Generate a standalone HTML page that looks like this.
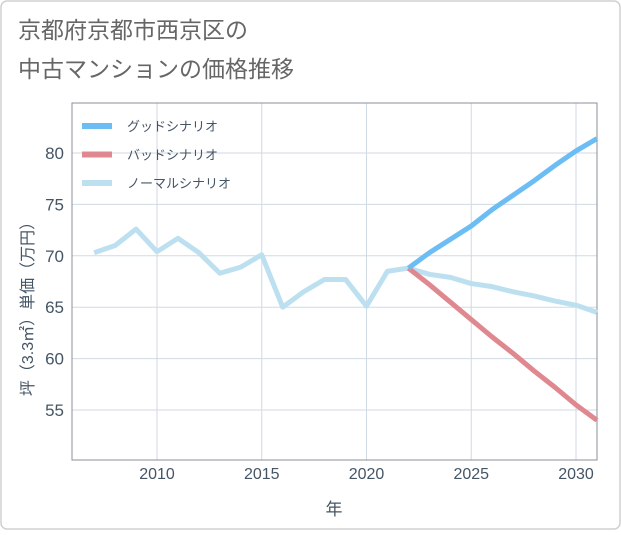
<!DOCTYPE html>
<html><head><meta charset="utf-8"><style>
body{margin:0;background:#fff;}
#wrap{position:relative;width:621px;height:530px;}
text{font-family:"Liberation Sans","Noto Sans CJK JP",sans-serif;}
</style></head><body>
<div id="wrap">
<svg id="chart" width="621" height="530">
<rect x="1" y="1" width="619" height="528" rx="6" fill="#fff" stroke="#d0d0d0" stroke-width="1.5"/>
<text x="18" y="38" font-size="23" fill="#666">京都府京都市西京区の</text>
<text x="18" y="77" font-size="23" fill="#666">中古マンションの価格推移</text>
<g id="grid"></g>
<rect x="72" y="103" width="525" height="357" fill="none" stroke="#8a9099" stroke-width="1"/>
<g id="series"></g>
<g id="axes"></g>
<text x="334" y="515" font-size="17" fill="#445566" text-anchor="middle">年</text>
<text transform="translate(33,305) rotate(-90)" font-size="16" fill="#445566" text-anchor="middle">坪（3.3㎡）単価（万円）</text>
<g id="legend"></g>
</svg>
</div>
<script>
const years=[2007,2008,2009,2010,2011,2012,2013,2014,2015,2016,2017,2018,2019,2020,2021,2022,2023,2024,2025,2026,2027,2028,2029,2030,2031];
const normalVals=[70.3,71.0,72.6,70.4,71.7,70.3,68.3,68.9,70.1,65.0,66.5,67.7,67.7,65.1,68.5,68.8,68.2,67.9,67.3,67.0,66.5,66.1,65.6,65.2,64.5];
const futureYears=[2022,2023,2024,2025,2026,2027,2028,2029,2030,2031];
const goodVals=[68.8,70.3,71.6,72.9,74.5,75.9,77.3,78.8,80.2,81.4];
const badVals=[68.8,67.2,65.5,63.8,62.1,60.5,58.8,57.2,55.5,54.0];
const xTicks=[2010,2015,2020,2025,2030];
const yTicks=[55,60,65,70,75,80];
const NS='http://www.w3.org/2000/svg';
const X=v=>157+(v-2010)*20.95;
const Y=v=>153+(80-v)*10.28;
function mk(tag,attrs,parent){const e=document.createElementNS(NS,tag);for(const k in attrs)e.setAttribute(k,attrs[k]);parent.appendChild(e);return e;}
const grid=document.getElementById('grid'),axes=document.getElementById('axes'),ser=document.getElementById('series'),leg=document.getElementById('legend');
xTicks.forEach(t=>{
 const l=mk('line',{x1:X(t),x2:X(t),y1:103,y2:460,stroke:'#d0dae4','stroke-width':1},grid);
 
 
 const tx=mk('text',{x:X(t),y:479,'font-size':16,fill:'#445566','text-anchor':'middle'},axes);
 tx.textContent=t;
 
 
});
yTicks.forEach(t=>{
 const l=mk('line',{x1:72,x2:597,y1:Y(t),y2:Y(t),stroke:'#d0dae4','stroke-width':1},grid);
 
 
 const tx=mk('text',{x:64,y:Y(t)+6,'font-size':17,fill:'#445566','text-anchor':'end'},axes);
 tx.textContent=t;
 
 
});
function line(xs,vs,color,name){
 const p=mk('polyline',{points:xs.map((x,i)=>X(x)+','+Y(vs[i])).join(' '),fill:'none',stroke:color,'stroke-width':5,'stroke-linejoin':'round','stroke-linecap':'butt'},ser);
 
 
}
line(years,normalVals,'#bde0f0','normal-scenario-line');
line(futureYears,badVals,'#e08890','bad-scenario-line');
line(futureYears,goodVals,'#6cbdf3','good-scenario-line');
[['グッドシナリオ','#6cbdf3'],['バッドシナリオ','#e08890'],['ノーマルシナリオ','#bde0f0']].forEach((d,i)=>{
 const y=126+i*28.5;
 const r=mk('rect',{x:82,y:y-3,width:30,height:6,fill:d[1]},leg);
 
 
 const t=mk('text',{x:127,y:y+5,'font-size':13,fill:'#445566'},leg);
 t.textContent=d[0];
 
 
});
</script>
</body></html>
